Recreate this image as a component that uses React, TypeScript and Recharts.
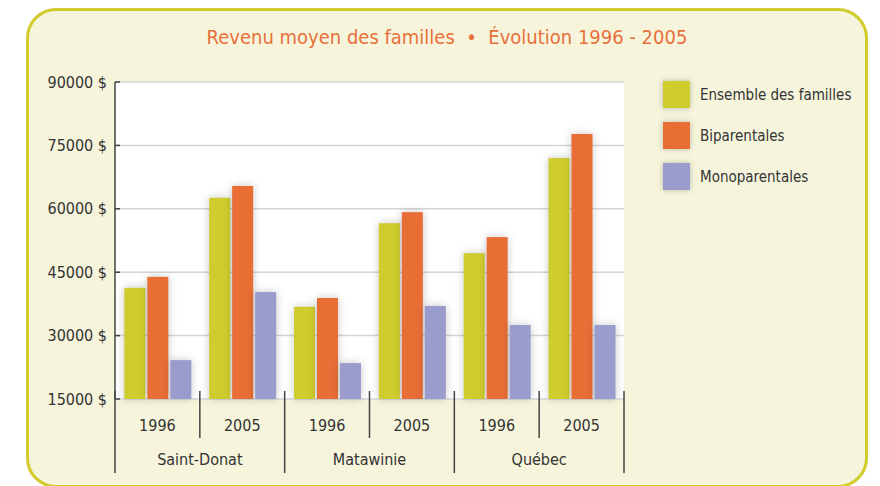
import React from "react";
import { BarChart, Bar, XAxis, YAxis, CartesianGrid } from "recharts";

const regions = ["Saint-Donat", "Matawinie", "Québec"];
const years = ["1996", "2005"];

const ensemble = [41300, 62600, 36800, 56600, 49500, 72000];
const biparentales = [43900, 65400, 38900, 59200, 53300, 77700];
const monoparentales = [24200, 40300, 23500, 37000, 32500, 32500];

const yTicks = [15000, 30000, 45000, 60000, 75000, 90000];

const series = [
  { key: "ensemble", name: "Ensemble des familles", color: "#cfcd2d" },
  { key: "biparentales", name: "Biparentales", color: "#e86e36" },
  { key: "monoparentales", name: "Monoparentales", color: "#9b9cce" },
];

const chartData = regions.flatMap((region, r) =>
  years.map((year, y) => {
    const i = r * years.length + y;
    return {
      key: `${region}-${year}`,
      region,
      year,
      ensemble: ensemble[i],
      biparentales: biparentales[i],
      monoparentales: monoparentales[i],
    };
  })
);

const FONT = "'Liberation Sans Narrow', 'DejaVu Sans Condensed', sans-serif";
const TEXT = "#333";
const LINE = "#444";

const ShadowBar = (props: any) => {
  const { x, y, width, height, fill } = props;
  if (!height || height <= 0) return null;
  return (
    <rect
      x={x}
      y={y}
      width={width}
      height={height}
      fill={fill}
      style={{ filter: "drop-shadow(0px 0px 4px rgba(0,0,0,0.22))" }}
    />
  );
};

// two level axis: year under each group, region under each pair
const GroupTick = (props: any) => {
  const { x, y, payload, index, width } = props;
  const band = width / chartData.length;
  const row = chartData[index];
  const isFirstYear = index % years.length === 0;
  const right = x + band / 2;
  const left = x - band / 2;
  return (
    <g>
      <text
        x={x}
        y={y + 32}
        textAnchor="middle"
        fill={TEXT}
        fontSize={16}
        fontFamily={FONT}
      >
        {row ? row.year : payload.value}
      </text>
      {index === 0 && (
        <line x1={left} x2={left} y1={y - 8} y2={y + 74} stroke={LINE} strokeWidth={1.5} />
      )}
      <line
        x1={right}
        x2={right}
        y1={y - 8}
        y2={isFirstYear ? y + 39 : y + 74}
        stroke={LINE}
        strokeWidth={1.5}
      />
      {isFirstYear && row && (
        <text
          x={right}
          y={y + 66}
          textAnchor="middle"
          fill={TEXT}
          fontSize={16}
          fontFamily={FONT}
        >
          {row.region}
        </text>
      )}
    </g>
  );
};

const LegendBox = () => (
  <div
    style={{
      position: "absolute",
      left: 663,
      top: 81,
      fontFamily: FONT,
      color: TEXT,
      fontSize: 15,
    }}
  >
    {series.map((s) => (
      <div
        key={s.key}
        style={{ display: "flex", alignItems: "center", height: 27, marginBottom: 14 }}
      >
        <div
          style={{
            width: 27,
            height: 27,
            background: s.color,
            boxShadow: "0 0 6px rgba(0,0,0,0.25)",
            marginRight: 10,
          }}
        />
        <span>{s.name}</span>
      </div>
    ))}
  </div>
);

export default function App() {
  return (
    <div style={{ position: "absolute", left: 0, top: 0, width: 880, height: 486, overflow: "hidden", background: "#fff" }}>
      <div
        style={{
          position: "absolute",
          left: 26,
          top: 8,
          width: 842,
          height: 480,
          boxSizing: "border-box",
          border: "3px solid #cfcc2c",
          borderRadius: 30,
          background: "#f6f5dc",
        }}
      />
      <div
        style={{
          position: "absolute",
          left: 0,
          top: 25,
          width: 894,
          textAlign: "center",
          color: "#e8703a",
          fontFamily: FONT,
          fontSize: 20,
        }}
      >
        Revenu moyen des familles&nbsp;&nbsp;•&nbsp;&nbsp;Évolution 1996 - 2005
      </div>
      <div style={{ position: "absolute", left: 0, top: 0 }}>
        <BarChart
          width={880}
          height={486}
          data={chartData}
          margin={{ top: 82, right: 256, bottom: 0, left: 35 }}
          barCategoryGap="11%"
          barGap={2}
        >
          <CartesianGrid vertical={false} stroke="#d6d6d6" strokeWidth={1.5} fill="#ffffff" />
          <XAxis
            dataKey="key"
            axisLine={false}
            tickLine={false}
            tickSize={0}
            tickMargin={0}
            interval={0}
            height={87}
            tick={<GroupTick />}
          />
          <YAxis
            width={80}
            domain={[15000, 90000]}
            ticks={yTicks}
            interval={0}
            tickFormatter={(v) => `${v} $`}
            axisLine={{ stroke: LINE, strokeWidth: 1.5 }}
            tickLine={{ stroke: LINE, strokeWidth: 1.5 }}
            tickSize={-5}
            tickMargin={13}
            tick={{ fill: TEXT, fontSize: 16, fontFamily: FONT }}
          />
          {series.map((s) => (
            <Bar
              key={s.key}
              dataKey={s.key}
              name={s.name}
              fill={s.color}
              shape={<ShadowBar />}
              isAnimationActive={false}
            />
          ))}
        </BarChart>
      </div>
      <LegendBox />
    </div>
  );
}
